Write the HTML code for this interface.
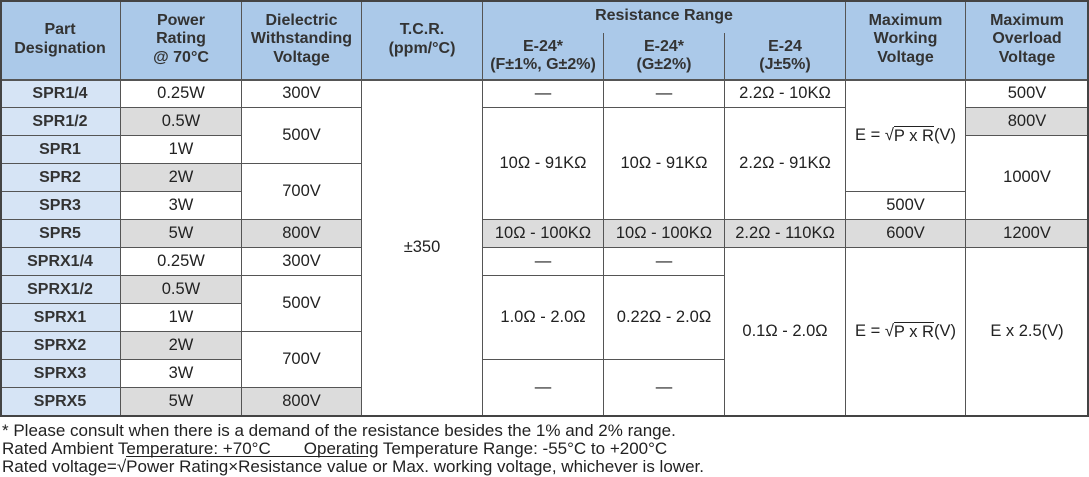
<!DOCTYPE html>
<html><head><meta charset="utf-8"><style>
body{margin:0;width:1089px;height:477px;background:#fff;font-family:"Liberation Sans",Arial,sans-serif;color:#222;overflow:hidden;position:relative}
.c{position:absolute;box-sizing:border-box;display:flex;align-items:center;justify-content:center;text-align:center;font-size:16.5px;line-height:19px;border-right:1px solid #555;border-bottom:1px solid #555;white-space:nowrap}
.h{background:#abc9e9;font-weight:bold;color:#333;font-size:16px;line-height:18.5px}
.p{background:#d6e4f5;font-weight:bold;color:#333;font-size:16px}
.g{background:#dcdcdc}
#frame{position:absolute;left:0;top:0;width:1089px;height:417px;box-sizing:border-box;border:2px solid #444;pointer-events:none}
.ft{position:absolute;left:2px;font-size:17px;line-height:18px;color:#222;white-space:nowrap}
.ov{border-top:1px solid #222}
</style></head><body>
<div id="tbl"></div>
<div id="frame"></div>
<div class="ft" style="top:422px">* Please consult when there is a demand of the resistance besides the 1% and 2% range.</div>
<div class="ft" style="top:440px">Rated Ambient Temperature: +70°C &nbsp;&nbsp;&nbsp;&nbsp;&nbsp;&nbsp;Operating Temperature Range: -55°C to +200°C</div>
<div class="ft" style="top:458px">Rated voltage=√<span class="ov">Power Rating×Resistance value</span> or Max. working voltage, whichever is lower.</div>
<script>
const xs=[0,121,242,362,483,604,725,846,966,1089];
const top0=80,rh=28;
const sq='E = √<span style="border-top:1px solid #222">P x R</span>(V)';
// [col, rowStart, rowEnd, html, cls]
const cells=[
[0,0,0,'Part<br>Designation','h'],[1,0,0,'Power<br>Rating<br>@ 70°C','h'],[2,0,0,'Dielectric<br>Withstanding<br>Voltage','h'],[3,0,0,'T.C.R.<br>(ppm/°C)','h'],
[7,0,0,'Maximum<br>Working<br>Voltage','h'],[8,0,0,'Maximum<br>Overload<br>Voltage','h'],
[3,1,12,'±350',''],
[2,1,1,'300V',''],[2,2,3,'500V',''],[2,4,5,'700V',''],[2,6,6,'800V','g'],[2,7,7,'300V',''],[2,8,9,'500V',''],[2,10,11,'700V',''],[2,12,12,'800V','g'],
[4,1,1,'—',''],[4,2,5,'10Ω - 91KΩ',''],[4,6,6,'10Ω - 100KΩ','g'],[4,7,7,'—',''],[4,8,10,'1.0Ω - 2.0Ω',''],[4,11,12,'—',''],
[5,1,1,'—',''],[5,2,5,'10Ω - 91KΩ',''],[5,6,6,'10Ω - 100KΩ','g'],[5,7,7,'—',''],[5,8,10,'0.22Ω - 2.0Ω',''],[5,11,12,'—',''],
[6,1,1,'2.2Ω - 10KΩ',''],[6,2,5,'2.2Ω - 91KΩ',''],[6,6,6,'2.2Ω - 110KΩ','g'],[6,7,12,'0.1Ω - 2.0Ω',''],
[7,1,4,sq,''],[7,5,5,'500V',''],[7,6,6,'600V','g'],[7,7,12,sq,''],
[8,1,1,'500V',''],[8,2,2,'800V','g'],[8,3,5,'1000V',''],[8,6,6,'1200V','g'],[8,7,12,'E x 2.5(V)','']
];
const parts=['SPR1/4','SPR1/2','SPR1','SPR2','SPR3','SPR5','SPRX1/4','SPRX1/2','SPRX1','SPRX2','SPRX3','SPRX5'];
const powers=['0.25W','0.5W','1W','2W','3W','5W','0.25W','0.5W','1W','2W','3W','5W'];
parts.forEach((p,i)=>{cells.push([0,i+1,i+1,p,'p']);cells.push([1,i+1,i+1,powers[i],[1,3,5,7,9,11].includes(i)?'g':''])});
const T=document.getElementById('tbl');
function add(x,y,w,h,html,cls,name){const d=document.createElement('div');d.className='c '+cls;
d.style.left=x+'px';d.style.top=y+'px';d.style.width=w+'px';d.style.height=h+'px';d.innerHTML=html;


T.appendChild(d);}
cells.forEach(c=>{const x=xs[c[0]],w=xs[c[0]+1]-x;let y,h;
if(c[1]===0){y=0;h=top0;}else{y=top0+(c[1]-1)*rh;h=(c[2]-c[1]+1)*rh;}
add(x,y,w,h,c[3],c[4],'cell-c'+c[0]+'-r'+c[1]);});
add(483,0,363,33,'Resistance Range','h','resistance-range-header');
T.lastChild.style.borderBottom='none';
add(483,33,121,47,'E-24*<br>(F±1%, G±2%)','h','e24-fg-header');
add(604,33,121,47,'E-24*<br>(G±2%)','h','e24-g-header');
add(725,33,121,47,'E-24<br>(J±5%)','h','e24-j-header');
const hl=document.createElement('div');hl.style.cssText='position:absolute;left:0;top:79px;width:1089px;height:2px;background:#555';


T.appendChild(hl);
</script>
</body></html>
